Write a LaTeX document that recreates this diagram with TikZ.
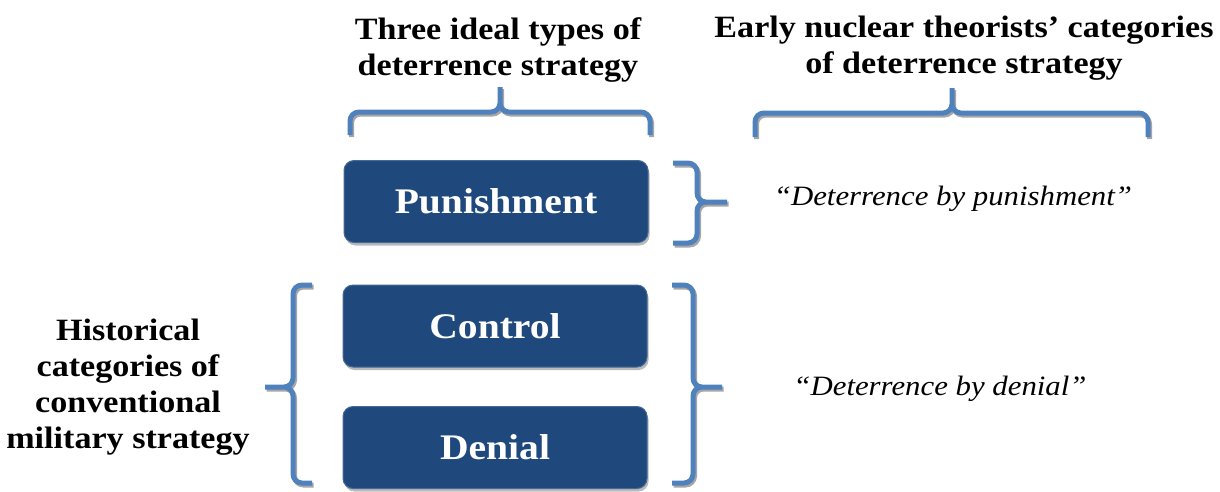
\documentclass[tikz,border=0pt]{standalone}
\usepackage{fontspec}
\setmainfont{Liberation Serif}[FakeStretch=1.1]
\usetikzlibrary{shadows}
\definecolor{boxblue}{RGB}{31,73,125}
\definecolor{boxedge}{RGB}{70,105,150}
\definecolor{braceblue}{RGB}{79,129,189}
\newcommand{\mybrace}[1]{%
  \draw[braceshade,shift={(1.5,2)}] #1;
  \draw[bracestyle] #1;}
\begin{document}
\begin{tikzpicture}[x=1pt,y=-1pt,
  catbox/.style={rounded corners=10pt, fill=boxblue, draw=boxedge, line width=1pt,
    minimum width=304pt, minimum height=82pt, inner sep=0pt, text=white,
    font=\fontsize{36}{40}\selectfont\bfseries,
    drop shadow={shadow xshift=1.5pt, shadow yshift=-3pt, fill=black!45, opacity=0.6}},
  heading/.style={font=\fontsize{31}{36}\selectfont\bfseries, align=center, inner sep=0pt},
  quote/.style={font=\fontsize{28}{32}\selectfont\itshape, inner sep=0pt},
  bracestyle/.style={draw=braceblue, line width=5pt, rounded corners=9pt, line cap=butt},
  braceshade/.style={draw=black!35, line width=5pt, rounded corners=9pt, line cap=butt}
]
\useasboundingbox (0,0) rectangle (1220,491);

% headings (anchor base = baseline of the last line)
\node[heading, anchor=base] (t1) at (498,75) {Three ideal types of\\deterrence strategy};
\node[heading, anchor=base] (t2) at (964,73) {Early nuclear theorists’ categories\\of deterrence strategy};
\node[heading, anchor=base] (hist) at (128,448) {Historical\\categories of\\conventional\\military strategy};

% boxes
\node[catbox] (pun) at (496,201.5) {Punishment};
\node[catbox] (con) at (495,326) {Control};
\node[catbox] (den) at (495,447.5) {Denial};

% quotes
\node[quote, anchor=base] (qp) at (953,205) {“Deterrence by punishment”};
\node[quote, anchor=base] (qd) at (940,395) {“Deterrence by denial”};

% braces
\mybrace{(350,135) -- (350,112) -- (500,112) -- (500,87) (650,135) -- (650,112) -- (500,112) -- (500,87)}
\mybrace{(755,137) -- (755,113) -- (952,113) -- (952,88) (1148,137) -- (1148,113) -- (952,113) -- (952,88)}
\mybrace{(673,163) -- (697,163) -- (697,202) -- (727,202) (673,243) -- (697,243) -- (697,202) -- (727,202)}
\mybrace{(312,285) -- (293,285) -- (293,387) -- (265,387) (312,483) -- (293,483) -- (293,387) -- (265,387)}
\mybrace{(672,285) -- (693,285) -- (693,387) -- (722,387) (672,483) -- (693,483) -- (693,387) -- (722,387)}
\end{tikzpicture}
\end{document}
